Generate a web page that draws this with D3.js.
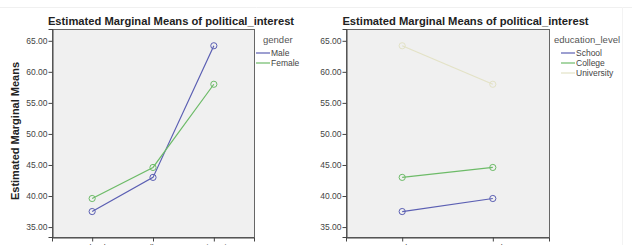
<!DOCTYPE html>
<html>
<head>
<meta charset="utf-8">
<script src="https://cdn.jsdelivr.net/npm/d3@7"></script>
<style>
	body { margin: 0; background: #fff; }
	svg { display: block; font-family: 'Liberation Sans', Arial, sans-serif; }
</style>
</head>
<body>
<svg width="640" height="245"></svg>
<script>
const genders = ['Male', 'Female'];
const educationLevels = ['School', 'College', 'University'];
const maleMeans = [37.5, 43.0, 64.2];
const femaleMeans = [39.6, 44.6, 58.0];
const yTicks = [35, 40, 45, 50, 55, 60, 65];
const titleText = 'Estimated Marginal Means of political_interest';

const svg = d3.select('svg');
const colors = ['#5b5fb3', '#6dbb68', '#e3e2c6'];

// faint page frame lines
svg.append('line').attr('x1', 0).attr('x2', 632).attr('y1', 7.5).attr('y2', 7.5)
	.attr('stroke', '#f0f0f0');
svg.append('line').attr('x1', 622.5).attr('x2', 622.5).attr('y1', 7).attr('y2', 245)
	.attr('stroke', '#f3f3f3');

const y = d3.scaleLinear().domain([33.4, 66.9]).range([237, 29]);

function drawPanel(opts) {
	const g = svg.append('g');
	const x = d3.scalePoint().domain(opts.categories).range([opts.x0, opts.x1]).padding(opts.padding);

	g.append('rect')
		.attr('x', opts.x0 + 0.5).attr('y', 29.5)
		.attr('width', opts.x1 - opts.x0).attr('height', 237 - 29)
		.attr('fill', '#f0f0f0').attr('stroke', '#666').attr('stroke-width', 1);

	g.append('text')
		.attr('x', (opts.x0 + opts.x1) / 2 + opts.titleShift).attr('y', 25)
		.attr('text-anchor', 'middle').attr('font-size', 11.2).attr('font-weight', 'bold')
		.attr('fill', '#222').text(titleText);

	const yAxis = g.append('g')
		.attr('transform', `translate(${opts.x0 + 0.5},0)`)
		.call(d3.axisLeft(y).tickValues(yTicks).tickSize(4).tickPadding(1).tickFormat(d3.format('.2f')));
	yAxis.select('.domain').attr('stroke', '#444');
	yAxis.selectAll('.tick line').attr('stroke', '#444');
	yAxis.selectAll('text').attr('font-size', 8.5).attr('fill', '#444')
		.attr('font-family', "'Liberation Sans', Arial, sans-serif");

	const xAxis = g.append('g')
		.attr('transform', 'translate(0,237.5)')
		.call(d3.axisBottom(x).tickSize(4).tickPadding(3));
	xAxis.select('.domain').attr('stroke', '#444');
	xAxis.selectAll('.tick line').attr('stroke', '#444');
	xAxis.selectAll('text').attr('font-size', 8.5).attr('fill', '#444')
		.attr('font-family', "'Liberation Sans', Arial, sans-serif");

	const line = d3.line().x(d => x(d.cat)).y(d => y(d.value));

	opts.series.forEach((s, i) => {
		const pts = opts.categories.map((c, j) => ({cat: c, value: s.values[j]}));
		g.append('path').datum(pts)
			.attr('d', line).attr('fill', 'none')
			.attr('stroke', colors[i]).attr('stroke-width', 1.2);
		g.selectAll(null).data(pts).enter().append('circle')
			.attr('cx', d => x(d.cat)).attr('cy', d => y(d.value)).attr('r', 3.1)
			.attr('fill', 'none').attr('stroke', colors[i]).attr('stroke-width', 1);
	});

	const legend = g.append('g');
	legend.append('text')
		.attr('x', opts.legendX).attr('y', 43)
		.attr('font-size', 9.5).attr('fill', '#555').text(opts.legendTitle);
	opts.series.forEach((s, i) => {
		const ly = 53 + i * 10;
		legend.append('line')
			.attr('x1', opts.legendLineX).attr('x2', opts.legendLineX + 14)
			.attr('y1', ly).attr('y2', ly)
			.attr('stroke', colors[i]).attr('stroke-width', 1.2);
		legend.append('text')
			.attr('x', opts.legendLineX + 15).attr('y', ly + 3)
			.attr('font-size', 8.5).attr('fill', '#444').text(s.name);
	});
}

drawPanel({
	categories: educationLevels,
	x0: 52, x1: 254, padding: 0.66, titleShift: 18,
	series: [
		{name: genders[0], values: maleMeans},
		{name: genders[1], values: femaleMeans}
	],
	legendTitle: 'gender', legendX: 263, legendLineX: 256
});

drawPanel({
	categories: genders,
	x0: 346, x1: 549, padding: 0.62, titleShift: 18,
	series: educationLevels.map((e, i) => ({name: e, values: [maleMeans[i], femaleMeans[i]]})),
	legendTitle: 'education_level', legendX: 554, legendLineX: 561
});

svg.append('text')
	.attr('transform', 'translate(19,131) rotate(-90)')
	.attr('text-anchor', 'middle').attr('font-size', 11).attr('font-weight', 'bold')
	.attr('fill', '#222').text('Estimated Marginal Means');
</script>
</body>
</html>
